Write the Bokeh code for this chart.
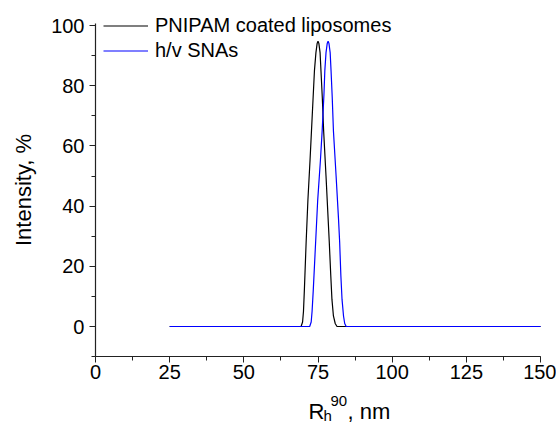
from bokeh.plotting import figure
from bokeh.models import Label, SingleIntervalTicker, Legend, LegendItem, Range1d
from bokeh.embed import file_html
from bokeh.resources import INLINE

# Data
pnipam_x = [25, 69.3, 69.8, 70.1, 70.4, 71.0, 71.6, 72.3, 72.8, 73.4, 73.8, 74.3, 74.7, 75.0,
            75.3, 75.7, 76.0, 76.45, 76.9, 77.7, 78.4, 78.8, 79.3, 79.7, 80.2, 80.8, 81.4, 150]
pnipam_y = [0, 0, 1.5, 5, 12, 28, 42, 55, 65, 77, 85, 91, 94, 94.8,
            94, 91, 85, 76, 65, 50, 36, 28, 17, 9, 3.5, 1, 0, 0]

snas_x = [25, 72.2, 72.7, 73.0, 73.4, 74.2, 74.9, 75.8, 76.4, 77.0, 77.3, 77.7, 78.1, 78.4,
          78.7, 79.1, 79.4, 79.8, 80.2, 81.1, 81.9, 82.3, 82.7, 83.1, 83.6, 84.0, 84.5, 150]
snas_y = [0, 0, 1.5, 5, 12, 28, 42, 55, 65, 77, 85, 91, 94, 94.8,
          94, 91, 85, 76, 65, 50, 36, 28, 17, 9, 3.5, 1, 0, 0]

series_labels = ["PNIPAM coated liposomes", "h/v SNAs"]
x_bounds = (0, 150)
y_bounds = (-10, 100.6)

FONT = "Liberation Sans"
W, H = 556, 425

# frame covers the whole canvas; axes are placed at fixed data locations
p = figure(width=W, height=H, output_backend="svg", toolbar_location=None,
           x_range=Range1d(-32.02, 155.39), y_range=Range1d(-32.89, 108.31),
           min_border=0)
p.outline_line_color = None
p.grid.visible = False
p.background_fill_color = "white"

r1 = p.line(pnipam_x, pnipam_y, line_color="black", line_width=1.2)
r2 = p.line(snas_x, snas_y, line_color="#0000ff", line_width=1.2)

for ax in (p.xaxis[0], p.yaxis[0]):
    ax.axis_line_color = "#222222"
    ax.axis_line_width = 1.2
    ax.major_tick_line_color = "#222222"
    ax.minor_tick_line_color = "#222222"
    ax.major_tick_in = 0
    ax.major_tick_out = 6
    ax.minor_tick_in = 0
    ax.minor_tick_out = 4
    ax.major_label_text_font = FONT
    ax.major_label_text_font_size = "20px"
    ax.major_label_text_color = "black"
    ax.axis_label_text_font = FONT
    ax.axis_label_text_font_style = "normal"
    ax.axis_label_text_font_size = "22px"
    ax.axis_label_text_color = "black"

p.xaxis.fixed_location = y_bounds[0]
p.xaxis.bounds = x_bounds
p.yaxis.fixed_location = x_bounds[0]
p.yaxis.bounds = y_bounds
p.xaxis.ticker = SingleIntervalTicker(interval=25, num_minor_ticks=2)
p.yaxis.ticker = SingleIntervalTicker(interval=20, num_minor_ticks=2)
p.xaxis.major_label_standoff = 2
p.yaxis.major_label_standoff = 5
p.yaxis.axis_label = "Intensity, %"
p.yaxis.axis_label_standoff = 12

# x-axis label with sub/superscript, as separate text pieces (screen px from bottom-left)
lab_kw = dict(x_units="screen", y_units="screen", text_font=FONT, text_color="black",
              text_baseline="alphabetic")
p.add_layout(Label(x=308, y=H - 411, text="R", text_font_size="22px", **lab_kw))
p.add_layout(Label(x=323, y=H - 415, text="h", text_font_size="15px", **lab_kw))
p.add_layout(Label(x=330, y=H - 400, text="90", text_font_size="15px", **lab_kw))
p.add_layout(Label(x=347, y=H - 411, text=", nm", text_font_size="22px", **lab_kw))

legend = Legend(items=[LegendItem(label=series_labels[0], renderers=[r1]),
                       LegendItem(label=series_labels[1], renderers=[r2])],
                location=(103, H - 62.5), orientation="vertical",
                glyph_width=45, glyph_height=25, label_height=25, label_standoff=7,
                padding=0, margin=0, spacing=0,
                border_line_alpha=0, background_fill_alpha=0,
                label_text_font=FONT, label_text_font_size="20px", label_text_color="black")
p.add_layout(legend)

open("out.html", "w").write(file_html(p, INLINE))
